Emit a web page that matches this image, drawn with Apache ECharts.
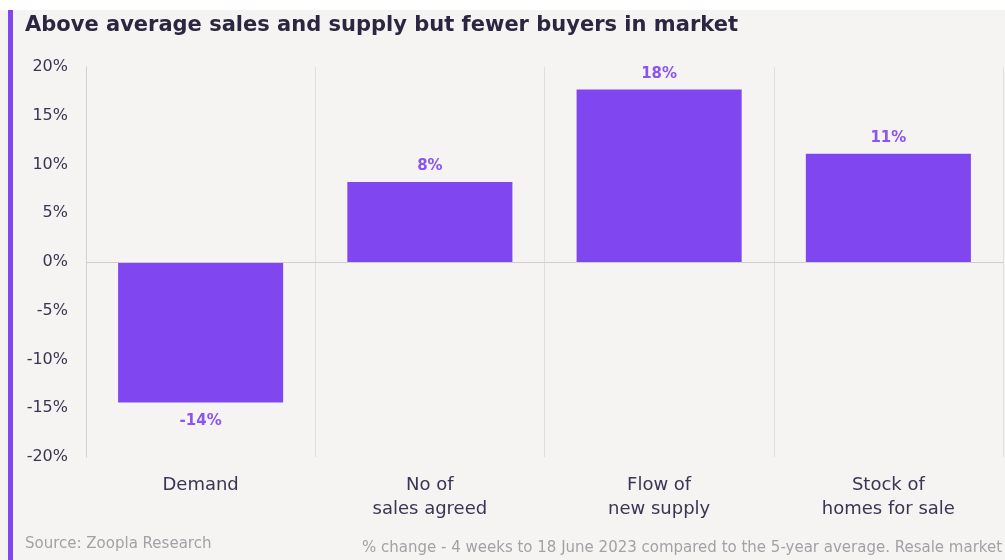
<!DOCTYPE html>
<html><head><meta charset="utf-8">
<script src="https://cdn.jsdelivr.net/npm/echarts@6/dist/echarts.min.js"></script>
<style>html,body{margin:0;padding:0;background:#fff}#c{width:1005px;height:560px}</style>
</head><body><div id="c"></div>
<script>
const titleText = 'Above average sales and supply but fewer buyers in market';
const categories = ['Demand', 'No of\nsales agreed', 'Flow of\nnew supply', 'Stock of\nhomes for sale'];
const values = [-14.4, 8.2, 17.7, 11.1];
const sourceText = 'Source: Zoopla Research';
const noteText = '% change - 4 weeks to 18 June 2023 compared to the 5-year average. Resale market';

const FONT = 'DejaVu Sans';
const chart = echarts.init(document.getElementById('c'), null, {renderer: 'canvas'});
chart.setOption({
  backgroundColor: '#ffffff',
  animation: false,
  graphic: [
    {type: 'rect', z: -10, shape: {x: 0, y: 10, width: 1005, height: 550}, style: {fill: '#f5f4f2'}},
    {type: 'rect', z: 10, shape: {x: 8, y: 10, width: 5, height: 550}, style: {fill: '#8046f0'}},
    {type: 'text', left: 25, top: 15, style: {text: titleText, font: 'bold 21px ' + FONT, fill: '#2b2740'}},
    {type: 'text', left: 25, top: 537, style: {text: sourceText, font: '15px ' + FONT, fill: '#a3a1a6'}},
    {type: 'text', left: 362, top: 541, style: {text: noteText, font: '15px ' + FONT, fill: '#a3a1a6'}}
  ],
  grid: {left: 86, right: 2, top: 67, bottom: 103, containLabel: false},
  xAxis: {
    type: 'category',
    data: categories,
    axisLine: {show: false, onZero: false},
    axisTick: {show: false},
    splitLine: {show: true, lineStyle: {color: '#e0dfdd', width: 1}},
    axisLabel: {color: '#3a3552', fontFamily: FONT, fontSize: 18, lineHeight: 24, margin: 16}
  },
  yAxis: {
    type: 'value', min: -20, max: 20, interval: 5,
    axisLine: {show: true, lineStyle: {color: '#d3d2d0'}},
    axisTick: {show: false},
    splitLine: {show: false},
    axisLabel: {color: '#3a3552', fontFamily: FONT, fontSize: 16, margin: 18, formatter: v => v + '%'}
  },
  series: [{
    type: 'bar',
    barWidth: '72%',
    itemStyle: {color: '#8046f0'},
    data: values.map(v => ({value: v, label: {position: v < 0 ? 'bottom' : 'top', distance: v < 0 ? 11 : 8}})),
    label: {show: true, color: '#8a55f0', fontFamily: FONT, fontSize: 15, fontWeight: 'bold',
      formatter: p => Math.round(p.value) + '%'},
    markLine: {
      silent: true, symbol: 'none', label: {show: false},
      lineStyle: {color: '#cfcecc', type: 'solid', width: 1},
      data: [{yAxis: 0}]
    }
  }]
});
</script></body></html>
